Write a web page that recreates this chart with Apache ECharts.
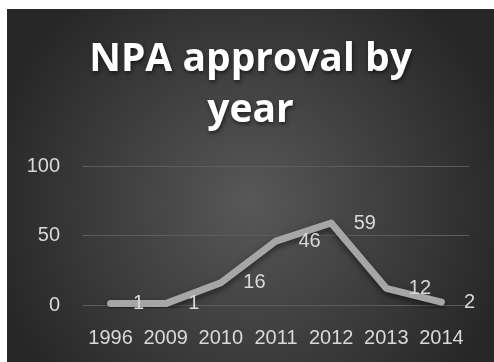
<!DOCTYPE html>
<html>
<head>
  <meta charset="utf-8" />
  <title>NPA approval by year</title>
  <script src="https://cdn.jsdelivr.net/npm/echarts@6/dist/echarts.min.js"></script>
  <style>
    body { margin: 0; padding: 0; background: #fff; overflow: hidden; }
    #main { position: absolute; left: 7px; top: 9px; width: 487px; height: 353px; }
  </style>
</head>
<body>
  <div id="main"></div>
  <script type="text/javascript">
    // data
    const years = ['1996', '2009', '2010', '2011', '2012', '2013', '2014'];
    const approvals = [1, 1, 16, 46, 59, 12, 2];

    const chart = echarts.init(document.getElementById('main'));
    const txt = '#d9d9d9';
    const font = '"Liberation Sans", Arial, sans-serif';

    const option = {
      backgroundColor: {
        type: 'radial', x: 0.5, y: 0.55, r: 0.75,
        colorStops: [
          { offset: 0, color: '#585858' },
          { offset: 1, color: '#272727' }
        ]
      },
      title: {
        text: 'NPA approval by\nyear',
        left: 'center',
        top: 20,
        textStyle: {
          color: '#ffffff',
          fontFamily: '"Open Sans", sans-serif',
          fontWeight: 'bold',
          fontSize: 39,
          lineHeight: 51,
          textShadowColor: 'rgba(0,0,0,0.6)',
          textShadowBlur: 4,
          textShadowOffsetX: 1,
          textShadowOffsetY: 2
        }
      },
      grid: { left: 76, right: 25, top: 157, bottom: 57 },
      xAxis: {
        type: 'category',
        data: years,
        axisTick: { show: false },
        axisLine: { show: false },
        axisLabel: { color: txt, fontSize: 20, fontFamily: font, margin: 23, interval: 0 }
      },
      yAxis: {
        type: 'value',
        min: 0, max: 100, interval: 50,
        axisLabel: { color: txt, fontSize: 20, fontFamily: font, margin: 23 },
        splitLine: { lineStyle: { color: '#5c5c5c', width: 1 } }
      },
      series: [{
        type: 'line',
        data: approvals,
        symbol: 'circle',
        symbolSize: 1,
        itemStyle: { color: 'rgba(0,0,0,0)' },
        lineStyle: {
          color: '#a6a6a6', width: 7, cap: 'round', join: 'round',
          shadowColor: 'rgba(0,0,0,0.5)', shadowBlur: 6, shadowOffsetY: 3
        },
        label: {
          show: true, position: 'right', distance: 22,
          color: txt, fontSize: 20, fontFamily: font
        },
        animation: false
      }]
    };
    chart.setOption(option);
  </script>
</body>
</html>
